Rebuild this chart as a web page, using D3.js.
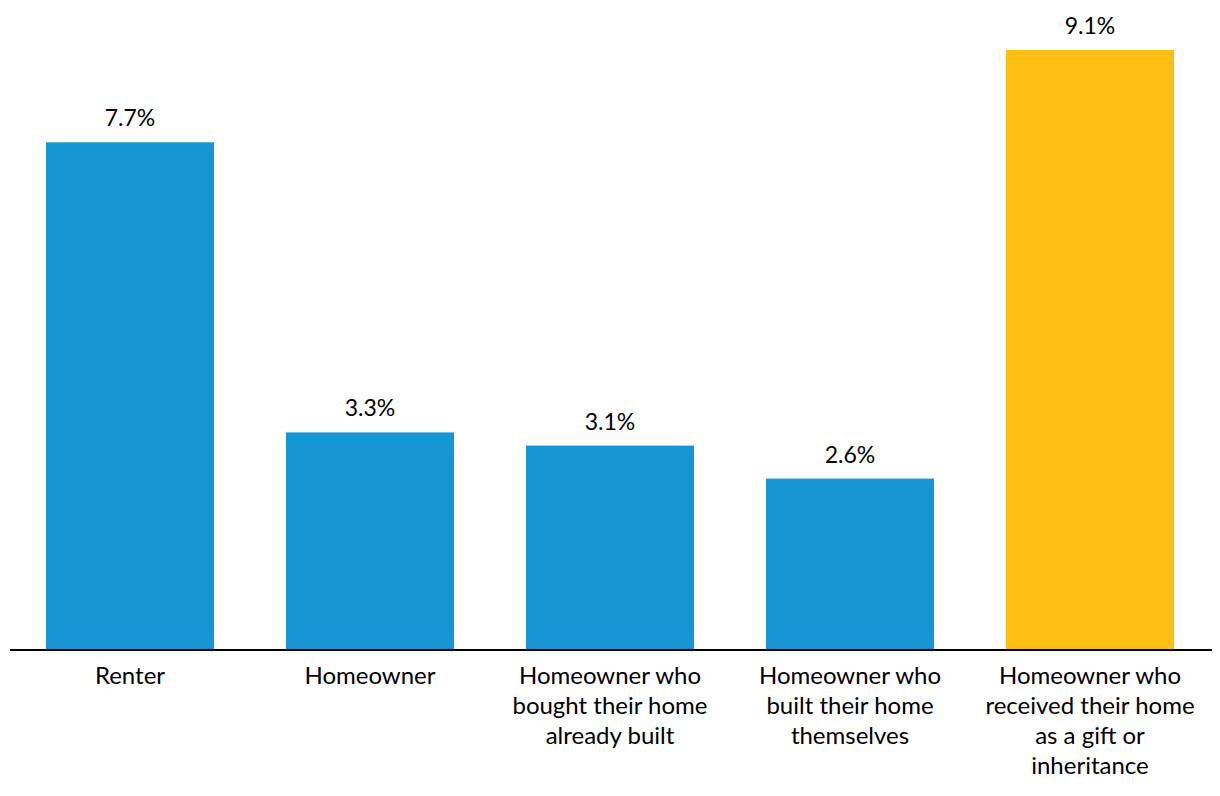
<!DOCTYPE html>
<html><head><meta charset="utf-8">
<script src="https://cdn.jsdelivr.net/npm/d3@7"></script>
<style>body{margin:0;background:#fff}svg{display:block}text{font-family:Lato,sans-serif}</style>
</head><body><svg id="c" width="1220" height="796"></svg>
<script>
const categories = [
  ["Renter"],
  ["Homeowner"],
  ["Homeowner who","bought their home","already built"],
  ["Homeowner who","built their home","themselves"],
  ["Homeowner who","received their home","as a gift or","inheritance"]
];
const values = [7.7, 3.3, 3.1, 2.6, 9.1];
const highlight = [false, false, false, false, true];

const svg = d3.select("#c");
const x = d3.scaleBand().domain(d3.range(values.length)).range([10,1210]).paddingInner(0.3).paddingOuter(0.15);
const y = d3.scaleLinear().domain([0, 9.1]).range([650, 50]);

svg.selectAll("rect.bar").data(values).enter().append("rect")
  .attr("x",(d,i)=>x(i)).attr("width",x.bandwidth())
  .attr("y",d=>y(d)).attr("height",d=>y(0)-y(d))
  .attr("fill",(d,i)=>highlight[i]?"#fdbf11":"#1696d2");

svg.selectAll("text.val").data(values).enter().append("text")
  .attr("x",(d,i)=>x(i)+x.bandwidth()/2).attr("y",d=>y(d)-16)
  .attr("text-anchor","middle").attr("font-size",23).attr("fill","#000")
  .text(d=>d.toFixed(1)+"%");

svg.append("line").attr("x1",10).attr("x2",1212).attr("y1",y(0)).attr("y2",y(0))
  .attr("stroke","#000").attr("stroke-width",2);

categories.forEach((lines,i)=>{
  const t = svg.append("text").attr("text-anchor","middle").attr("font-size",24).attr("fill","#000");
  lines.forEach((l,j)=>{
    t.append("tspan").attr("x",x(i)+x.bandwidth()/2).attr("y",684+j*30).text(l);
  });
});
</script></body></html>
